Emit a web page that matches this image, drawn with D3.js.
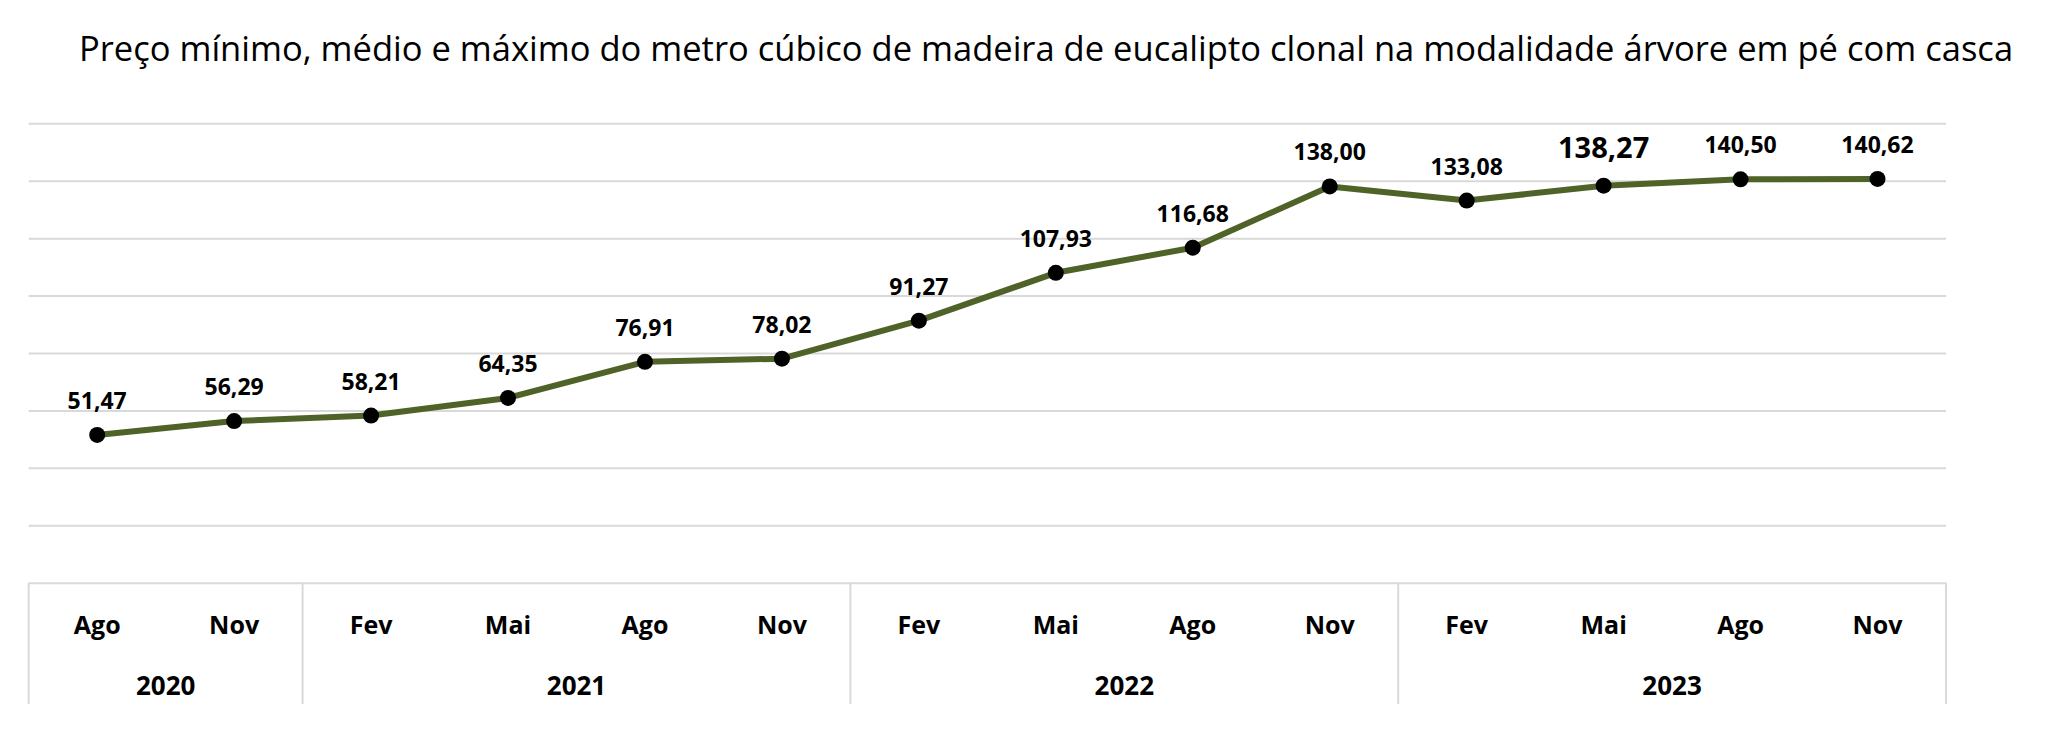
<!DOCTYPE html>
<html><head><meta charset="utf-8">
<script src="https://cdn.jsdelivr.net/npm/d3@7"></script>
<style>html,body{margin:0;padding:0;background:#fff;}svg{display:block;}</style>
</head><body>
<svg id="chart" width="2048" height="736"></svg>
<script>
const title = "Preço mínimo, médio e máximo do metro cúbico de madeira de eucalipto clonal na modalidade árvore em pé com casca";
const months = ["Ago","Nov","Fev","Mai","Ago","Nov","Fev","Mai","Ago","Nov","Fev","Mai","Ago","Nov"];
const years = ["2020","2020","2021","2021","2021","2021","2022","2022","2022","2022","2023","2023","2023","2023"];
const values = [51.47,56.29,58.21,64.35,76.91,78.02,91.27,107.93,116.68,138.00,133.08,138.27,140.50,140.62];
const highlighted = [11];
const yTicks = [0,20,40,60,80,100,120,140,160];

(function(){
const svg = d3.select("#chart");
const pLeft = 28.7, pRight = 1946, pTop = 123.3, pBottom = 582.7;
const idx = d3.range(values.length);
const x = d3.scaleBand().domain(idx).range([pLeft, pRight]).padding(0);
const y = d3.scaleLinear().domain([0,160]).range([pBottom, pTop]);
const cx = i => x(i) + x.bandwidth()/2;
const font = "'Open Sans', 'Noto Sans', sans-serif";

// title
const t = svg.append("text").attr("x", 1046).attr("y", 61).attr("text-anchor","middle")
  .attr("font-family", font).attr("font-size", 34).attr("fill","#000").text(title);
const tl = t.node().getComputedTextLength();
t.attr("font-size", 34 * 1935 / tl);

// grid
const yAxis = d3.axisLeft(y).tickValues(yTicks).tickSize(-(pRight-pLeft)).tickFormat("");
const g = svg.append("g").attr("transform", `translate(${pLeft},0)`).call(yAxis);
g.select(".domain").remove();
g.selectAll(".tick line").attr("stroke","#d9d9d9").attr("stroke-width",2);

// category axis (months)
const xAxis = d3.axisBottom(x).tickSize(0).tickFormat(i => months[i]);
const ga = svg.append("g").attr("transform", `translate(0,${pBottom})`).call(xAxis);
ga.select(".domain").remove();
ga.selectAll(".tick text").attr("font-family", font).attr("font-weight","bold")
  .attr("font-size", 25).attr("fill","#000").attr("dy", null).attr("y", 51);

// year groups
const groups = d3.groups(idx, i => years[i]);
const seps = [pLeft];
groups.forEach(([yr, ids]) => {
  const x0 = x(ids[0]), x1 = x(ids[ids.length-1]) + x.bandwidth();
  seps.push(x1);
  svg.append("text").attr("x", (x0+x1)/2).attr("y", 695).attr("text-anchor","middle")
    .attr("font-family", font).attr("font-weight","bold").attr("font-size", 26)
    .attr("fill","#000").text(yr);
});
svg.selectAll(".sep").data(seps).enter().append("line")
  .attr("x1", d=>d).attr("x2", d=>d).attr("y1", pBottom).attr("y2", 704)
  .attr("stroke","#d9d9d9").attr("stroke-width",2);

// line
const line = d3.line().x(i => cx(i)).y(i => y(values[i]));
svg.append("path").datum(idx).attr("d", line).attr("fill","none")
  .attr("stroke","#4f6228").attr("stroke-width",6).attr("stroke-linejoin","round");

svg.selectAll(".pt").data(idx).enter().append("circle")
  .attr("cx", cx).attr("cy", i => y(values[i])).attr("r", 8).attr("fill","#000");

const fmt = v => v.toFixed(2).replace(".", ",");
svg.selectAll(".lbl").data(idx).enter().append("text")
  .attr("x", cx).attr("y", i => y(values[i]) - (highlighted.includes(i) ? 28 : 26))
  .attr("text-anchor","middle").attr("font-family", font).attr("font-weight","bold")
  .attr("font-size", i => highlighted.includes(i) ? 29 : 23).attr("fill","#000")
  .text(i => fmt(values[i]));
})();
</script>
</body></html>
